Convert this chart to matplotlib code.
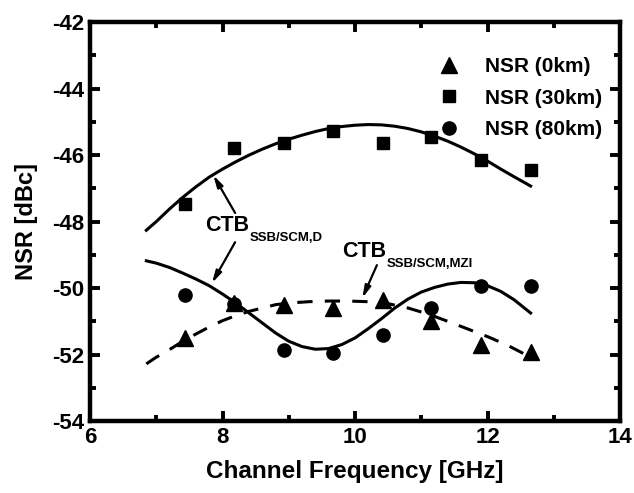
import matplotlib
matplotlib.use("Agg")
import matplotlib.pyplot as plt
from matplotlib.ticker import MultipleLocator

plt.rcParams.update(
    {
        "font.family": "Liberation Sans",
        "font.weight": "bold",
        "axes.unicode_minus": False,
    }
)

# measured channel frequencies [GHz]
freq = [7.43, 8.17, 8.93, 9.67, 10.42, 11.15, 11.9, 12.65]
nsr_0km = [-51.5, -50.45, -50.5, -50.6, -50.35, -50.98, -51.72, -51.93]
nsr_30km = [-47.46, -45.79, -45.63, -45.26, -45.63, -45.46, -46.16, -46.45]
nsr_80km = [-50.2, -50.48, -51.85, -51.95, -51.41, -50.6, -49.95, -49.95]

# simulated CTB curves
ctb_d_30_x = [6.85, 7.0, 7.2, 7.4, 7.6, 7.8, 8.0, 8.2, 8.4, 8.6, 8.8, 9.0, 9.2, 9.4, 9.6,
              9.8, 10.0, 10.2, 10.4, 10.6, 10.8, 11.0, 11.2, 11.4, 11.6, 11.8, 12.0, 12.2,
              12.4, 12.65]
ctb_d_30_y = [-48.26, -48.0, -47.62, -47.27, -46.95, -46.66, -46.42, -46.2, -46.0, -45.82,
              -45.66, -45.52, -45.4, -45.29, -45.2, -45.14, -45.1, -45.08, -45.09, -45.13,
              -45.2, -45.3, -45.43, -45.58, -45.76, -45.96, -46.18, -46.42, -46.65, -46.93]

ctb_d_80_x = [6.85, 7.0, 7.2, 7.4, 7.6, 7.8, 8.0, 8.2, 8.4, 8.6, 8.8, 9.0, 9.2, 9.4, 9.6,
              9.8, 10.0, 10.2, 10.4, 10.6, 10.8, 11.0, 11.2, 11.4, 11.6, 11.8, 12.0, 12.2,
              12.4, 12.65]
ctb_d_80_y = [-49.18, -49.25, -49.38, -49.55, -49.73, -49.93, -50.18, -50.45, -50.75,
              -51.05, -51.35, -51.6, -51.76, -51.84, -51.82, -51.7, -51.5, -51.22, -50.92,
              -50.6, -50.33, -50.12, -49.98, -49.88, -49.83, -49.84, -49.93, -50.1, -50.35,
              -50.75]

ctb_mzi_x = [6.85, 7.0, 7.2, 7.4, 7.6, 7.8, 8.0, 8.2, 8.4, 8.6, 8.8, 9.0, 9.3, 9.6, 9.9,
             10.2, 10.5, 10.8, 11.1, 11.4, 11.7, 12.0, 12.3, 12.65]
ctb_mzi_y = [-52.28, -52.08, -51.85, -51.6, -51.38, -51.17, -50.98, -50.83, -50.7, -50.6,
             -50.5, -50.45, -50.41, -50.39, -50.39, -50.41, -50.47, -50.6, -50.78, -51.0,
             -51.23, -51.46, -51.72, -52.08]

# annotation labels: (main, subscript, x, y)
labels = [("CTB", "SSB/SCM,D", 7.74, -48.12), ("CTB", "SSB/SCM,MZI", 9.80, -48.89)]
# arrows: (tail, head)
arrows = [((8.19, -47.74), (7.86, -46.60)),
          ((8.19, -48.62), (7.84, -49.85)),
          ((10.33, -49.31), (10.11, -50.30))]

fig = plt.figure(figsize=(6.34, 4.93), dpi=100)
ax = fig.add_axes([0.142, 0.146, 0.836, 0.809])

ax.plot(ctb_d_30_x, ctb_d_30_y, color="black", lw=2.2)
ax.plot(ctb_d_80_x, ctb_d_80_y, color="black", lw=2.2)
ax.plot(ctb_mzi_x, ctb_mzi_y, color="black", lw=2.2, dashes=(5, 4))

ax.plot(freq, nsr_0km, "^", color="black", ms=11, label="NSR (0km)")
ax.plot(freq, nsr_30km, "s", color="black", ms=8.5, label="NSR (30km)")
ax.plot(freq, nsr_80km, "o", color="black", ms=9.5, label="NSR (80km)")

for tail, head in arrows:
    ax.annotate("", xy=head, xytext=tail,
                arrowprops=dict(arrowstyle="-|>,head_length=0.7,head_width=0.18",
                                color="black", lw=1.6, shrinkA=0, shrinkB=0))
for main, sub, x, y in labels:
    t = ax.text(x, y, main, fontsize=15.5, va="center", ha="left")
    ax.annotate(sub, xy=(1, 0), xycoords=t, xytext=(0.5, -1.5),
                textcoords="offset points", fontsize=9.5, va="center", ha="left")

ax.set_xlim(6, 14)
ax.set_ylim(-54, -42)
ax.xaxis.set_major_locator(MultipleLocator(2))
ax.xaxis.set_minor_locator(MultipleLocator(1))
ax.yaxis.set_major_locator(MultipleLocator(2))
ax.yaxis.set_minor_locator(MultipleLocator(1))
ax.tick_params(which="both", direction="in", top=True, right=True, labelsize=16,
               width=2.8, pad=4)
ax.tick_params(which="major", length=7)
ax.tick_params(which="minor", length=4.5)
for spine in ax.spines.values():
    spine.set_linewidth(3.2)

ax.set_xlabel("Channel Frequency [GHz]", fontsize=17.5, fontweight="bold", labelpad=9)
ax.set_ylabel("NSR [dBc]", fontsize=17, fontweight="bold", labelpad=10)

ax.legend(loc="upper right", bbox_to_anchor=(0.966, 0.912), frameon=False, fontsize=15,
          handletextpad=0.7, borderpad=0, borderaxespad=0, labelspacing=0.6)

fig.savefig("out.png", dpi=100)
